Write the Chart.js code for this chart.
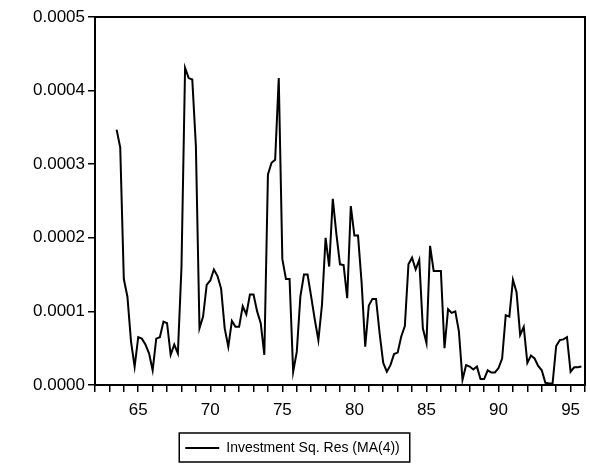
<!DOCTYPE html>
<html>
<head>
<meta charset="utf-8">
<script src="https://cdn.jsdelivr.net/npm/chart.js@4.4.0/dist/chart.umd.min.js"></script>
<style>
    html, body { margin: 0; padding: 0; background: #fff; }
    #wrap { width: 590px; height: 471px; }
</style>
</head>
<body>
<div id="wrap"><canvas id="chart" width="590" height="471"></canvas></div>
<script>
// quarterly data, first observation plotted at 1963.5
const firstQuarter = 63.5;
const seriesLabel = 'Investment Sq. Res (MA(4))';

const sqRes = [
    0.000347, 0.000323, 0.000144, 0.000120, 0.000059, 0.000025, 0.000065, 0.000063, 0.000055, 0.000043,
    0.000020, 0.000063, 0.000065, 0.000086, 0.000084, 0.000041, 0.000055, 0.000043, 0.000160, 0.000431,
    0.000417, 0.000415, 0.000325, 0.000077, 0.000093, 0.000136, 0.000142, 0.000157, 0.000148, 0.000131,
    0.000077, 0.000052, 0.000087, 0.000079, 0.000079, 0.000107, 0.000096, 0.000123, 0.000123, 0.000100,
    0.000084, 0.000041, 0.000286, 0.000302, 0.000306, 0.000417, 0.000171, 0.000144, 0.000144, 0.000018,
    0.000045, 0.000120, 0.000150, 0.000150, 0.000120, 0.000089, 0.000061, 0.000109, 0.000200, 0.000161,
    0.000253, 0.000205, 0.000164, 0.000163, 0.000118, 0.000243, 0.000203, 0.000203, 0.000139, 0.000052,
    0.000108, 0.000117, 0.000117, 0.000070, 0.000030, 0.000018, 0.000027, 0.000042, 0.000044, 0.000066,
    0.000080, 0.000164, 0.000173, 0.000157, 0.000170, 0.000077, 0.000057, 0.000189, 0.000155, 0.000155,
    0.000155, 0.000050, 0.000103, 0.000098, 0.000100, 0.000073, 0.000007, 0.000027, 0.000025, 0.000021,
    0.000025, 0.000008, 0.000008, 0.000020, 0.000017, 0.000017, 0.000023, 0.000036, 0.000095, 0.000093,
    0.000143, 0.000126, 0.000068, 0.000079, 0.000030, 0.000040, 0.000036, 0.000026, 0.000020, 0.000003,
    0.000002, 0.000002, 0.000053, 0.000061, 0.000062, 0.000065, 0.000018, 0.000024, 0.000024, 0.000025
];

const yTicks = [0, 0.0001, 0.0002, 0.0003, 0.0004, 0.0005];
const xYears = [62, 63, 64, 65, 66, 67, 68, 69, 70, 71, 72, 73, 74, 75, 76, 77, 78, 79,
    80, 81, 82, 83, 84, 85, 86, 87, 88, 89, 90, 91, 92, 93, 94, 95, 96];
const xLabelYears = [65, 70, 75, 80, 85, 90, 95];

const points = sqRes.map((v, i) => ({ x: firstQuarter + i * 0.25, y: v }));

// box around plot area and around the legend
const framePlugin = {
    id: 'frame',
    afterDraw(chart) {
        const ctx = chart.ctx;
        const a = chart.chartArea;
        ctx.save();
        ctx.strokeStyle = '#000';
        ctx.lineWidth = 2;
        ctx.strokeRect(a.left, a.top, a.right - a.left, a.bottom - a.top);
        const hb = chart.legend.legendHitBoxes[0];
        if (hb) {
            ctx.lineWidth = 1.5;
            ctx.strokeRect(hb.left - 6, hb.top - 8, hb.width + 16, hb.height + 15);
        }
        ctx.restore();
    }
};

new Chart(document.getElementById('chart'), {
    type: 'line',
    data: {
        datasets: [{
            label: seriesLabel,
            data: points,
            borderColor: '#000',
            backgroundColor: '#000',
            borderWidth: 2,
            pointRadius: 0,
            tension: 0,
            fill: false
        }]
    },
    options: {
        responsive: false,
        animation: false,
        events: [],
        layout: { padding: { left: 0, right: 5, top: 17, bottom: 6 } },
        plugins: {
            tooltip: { enabled: false },
            legend: {
                position: 'bottom',
                labels: {
                    color: '#000',
                    font: { family: 'Arial, "Liberation Sans"', size: 14 },
                    usePointStyle: true,
                    pointStyle: 'line',
                    pointStyleWidth: 34,
                    padding: 10
                }
            }
        },
        scales: {
            x: {
                type: 'linear',
                min: 62,
                max: 96,
                afterBuildTicks: (scale) => { scale.ticks = xYears.map(v => ({ value: v })); },
                afterFit: (scale) => {
                    scale.height = 46;
                    scale.paddingRight = 0;
                },
                border: { display: false },
                grid: { drawOnChartArea: false, color: '#000', tickLength: 7, lineWidth: 1.5 },
                ticks: {
                    color: '#000',
                    font: { family: 'Arial, "Liberation Sans"', size: 17 },
                    maxRotation: 0,
                    autoSkip: false,
                    padding: 8,
                    callback: (v) => xLabelYears.includes(v) ? String(v) : ''
                }
            },
            y: {
                min: 0,
                max: 0.0005,
                afterBuildTicks: (scale) => { scale.ticks = yTicks.map(v => ({ value: v })); },
                afterFit: (scale) => { scale.width = 95; },
                border: { display: false },
                grid: { drawOnChartArea: false, color: '#000', tickLength: 7, lineWidth: 1.5 },
                ticks: {
                    color: '#000',
                    font: { family: 'Arial, "Liberation Sans"', size: 17 },
                    autoSkip: false,
                    padding: 3,
                    callback: (v) => v.toFixed(4)
                }
            }
        }
    },
    plugins: [framePlugin]
});
</script>
</body>
</html>
